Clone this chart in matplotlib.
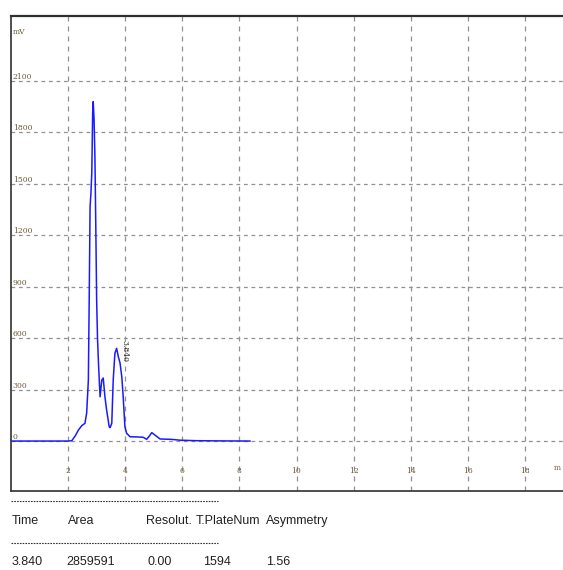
import matplotlib
matplotlib.use('Agg')
import matplotlib.pyplot as plt
from matplotlib.lines import Line2D

# chromatogram trace (min, mV)
time = [0.0, 1.0, 2.0, 2.13, 2.25, 2.36, 2.48, 2.59, 2.65, 2.71, 2.74, 2.77,
        2.80, 2.83, 2.86, 2.88, 2.91, 2.94, 2.97, 3.00, 3.03, 3.07, 3.12,
        3.18, 3.23, 3.29, 3.35, 3.44, 3.47, 3.53, 3.58, 3.64, 3.70, 3.76,
        3.82, 3.88, 3.93, 3.99, 4.05, 4.17, 4.40, 4.63, 4.75, 4.85, 4.93,
        5.04, 5.22, 5.60, 5.92, 6.50, 7.20, 8.37]
signal = [0, 0, 0, 2, 30, 64, 90, 103, 163, 355, 840, 1365,
          1444, 1561, 1910, 1977, 1870, 1650, 1250, 820, 600, 430, 258,
          355, 367, 258, 180, 83, 78, 103, 355, 512, 540, 491,
          454, 375, 258, 83, 45, 25, 24, 22, 10, 30, 49,
          35, 12, 10, 5, 2, 1, 0]

x_ticks = [2, 4, 6, 8, 10, 12, 14, 16, 18]
y_ticks = [0, 300, 600, 900, 1200, 1500, 1800, 2100]

peak_time = '3.840'
table_header = ['Time', 'Area', 'Resolut.', 'T.PlateNum', 'Asymmetry']
table_values = ['3.840', '2859591', '0.00', '1594', '1.56']

W, H = 563, 570
fig = plt.figure(figsize=(W / 100, H / 100), dpi=100)
ax = fig.add_axes([11 / W, 1 - 491 / H, 1 - 11 / W, (491 - 16) / H])
ax.set_xlim(0, (W - 11) / 28.55)
ax.set_ylim(-291, 2476)

for x in x_ticks:
    ax.axvline(x, color='#909090', lw=0.9, ls=(0, (4, 4)), zorder=1)
for y in y_ticks:
    ax.axhline(y, color='#909090', lw=0.9, ls=(0, (3, 3)), zorder=1)

ax.plot(time, signal, color='#1a1aff', lw=1.1, zorder=3)

ax.set_xticks([])
ax.set_yticks([])
for side in ['top', 'left', 'bottom']:
    ax.spines[side].set_color('#303030')
ax.spines['top'].set_linewidth(1.6)
ax.spines['left'].set_linewidth(1.2)
ax.spines['bottom'].set_linewidth(1.2)
ax.spines['right'].set_visible(False)

tick_font = dict(fontsize=5.5, color='#6b5a3a', family='DejaVu Serif')
for y in y_ticks:
    ax.text(0.06, y, str(y), va='bottom', ha='left', **tick_font)
for x in x_ticks:
    ax.text(x, -200, str(x), va='bottom', ha='center', **tick_font)
ax.text(0.06, 2380, 'mV', va='center', ha='left', **tick_font)
ax.text(19.25, -180, 'm', va='bottom', ha='right', **tick_font)

ax.text(3.98, 590, peak_time, rotation=-90, fontsize=5.5, color='#202020',
        ha='center', va='top', family='DejaVu Serif')

# peak table under the chart
tfont = ['Liberation Sans Narrow', 'Liberation Sans', 'DejaVu Sans']
for y in [501, 543]:
    fig.add_artist(Line2D([11 / W, 218 / W], [1 - y / H, 1 - y / H],
                          color='#333333', lw=0.8, ls=(0, (1.5, 1))))
head_x = [12, 68, 146, 196, 266]
val_x = [12, 66, 147, 203, 266]
for label, x in zip(table_header, head_x):
    fig.text(x / W, 1 - 521 / H, label, fontsize=9, color='#222222',
             va='center', ha='left', family=tfont)
for label, x in zip(table_values, val_x):
    fig.text(x / W, 1 - 562 / H, label, fontsize=9, color='#222222',
             va='center', ha='left', family=tfont)

fig.savefig('out.png', dpi=100)
